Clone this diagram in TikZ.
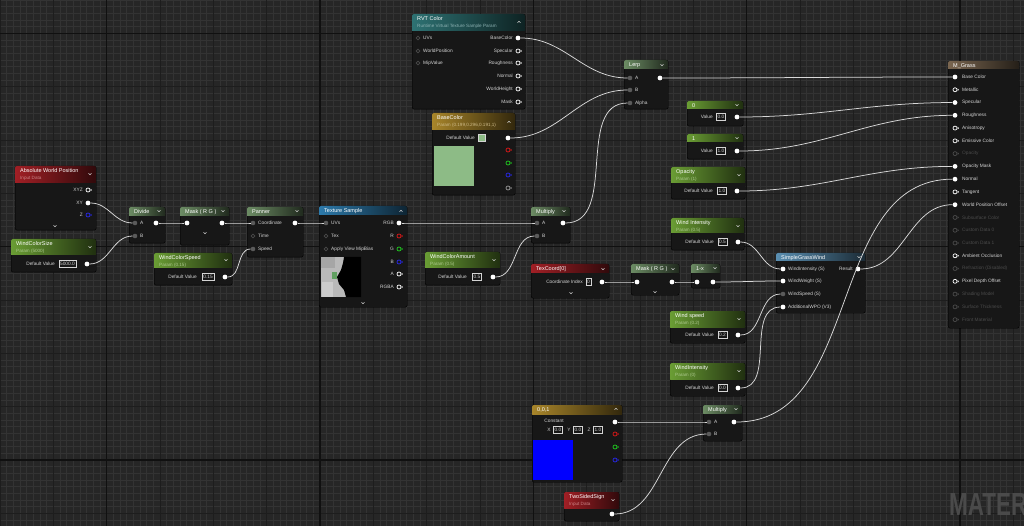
\documentclass[tikz,border=0pt]{standalone}
\usepackage{fontspec}
\setmainfont{Liberation Sans}
\usetikzlibrary{arrows.meta,positioning,calc}
\definecolor{uebg}{HTML}{262626}
\definecolor{uegridfine}{HTML}{333333}
\definecolor{uegridmid}{HTML}{1D1D1D}
\definecolor{uegridmaj}{HTML}{101010}
\definecolor{uebody}{HTML}{171717}
\definecolor{uered}{HTML}{A11F25}
\definecolor{ueparam}{HTML}{6A9D34}
\definecolor{uemath}{HTML}{6C8C64}
\definecolor{ueteal}{HTML}{2E7273}
\definecolor{uetex}{HTML}{2D7AAB}
\definecolor{uefunc}{HTML}{5A8FB2}
\definecolor{uegold}{HTML}{A8852A}
\definecolor{uemat}{HTML}{7A6650}
\definecolor{uetext}{HTML}{D4D4D4}
\definecolor{uedim}{HTML}{4A4A4A}
\definecolor{uepin}{HTML}{5A5A5A}
\definecolor{uewire}{HTML}{D8D8D8}
\definecolor{ueswatch}{HTML}{8DBB86}
\definecolor{pinred}{HTML}{E01818}
\definecolor{pingreen}{HTML}{20D020}
\definecolor{pinblue}{HTML}{2828F0}
\definecolor{uemark}{HTML}{4A4A4A}
\tikzset{
  ue/body/.style={draw=black, fill=uebody, rounded corners=2pt, inner sep=0pt, anchor=north west, line width=0.4pt},
  ue/title/.style={anchor=west, inner sep=0pt, text=white, font=\fontsize{5.5}{6}\selectfont},
  ue/sub/.style={anchor=west, inner sep=0pt, font=\fontsize{4.6}{5}\selectfont},
  ue/label/.style={inner sep=0pt, text=uetext, font=\fontsize{4.8}{5}\selectfont},
  ue/val/.style={draw=uetext, line width=0.4pt, inner xsep=1.2pt, inner ysep=0pt, minimum height=7pt, text=uetext, font=\fontsize{4.8}{5}\selectfont},
  pin/fill/.style={circle, fill=white, inner sep=0pt, minimum size=4.8pt},
  pin/in/.style={circle, fill=uepin, inner sep=0pt, minimum size=4.6pt},
  pin/free/.style={circle, draw=uedim, line width=0.6pt, inner sep=0pt, minimum size=3.8pt},
  wire/.style={draw=uewire, line width=0.75pt, out=0, in=180},
  openpin/.pic={\draw[line width=0.7pt,#1] (0,0) circle (2.0); \fill[#1] (2.6,-1.4) -- (3.9,0) -- (2.6,1.4) -- cycle;},
  pics/openpin/.default=white,
  chev/.pic={\draw[uetext, line width=0.5pt] (-1.4,-0.7) -- (0,0.7) -- (1.4,-0.7);},
  chevup/.pic={\draw[uetext, line width=0.5pt] (-1.4,0.7) -- (0,-0.7) -- (1.4,0.7);}
}
% name, x, y, width, height, header height, colour, title, subtitle
\newcommand{\uenode}[9]{%
  \node[ue/body, minimum width=#4pt, minimum height=#5pt] (#1) at (#2,#3) {};
  \begin{scope}
    \clip[rounded corners=2pt] (#2,#3) rectangle ++(#4,#6+2);
    \shade[left color=#7, right color=#7!30!black] (#2,#3) rectangle ++(#4,#6);
  \end{scope}
  \node[ue/title] (#1-t) at (#2+5,#3+5) {#8};
  \node[ue/sub, text=#7!55!white] (#1-s) at (#2+5,#3+12) {#9};
}

\begin{document}
\begin{tikzpicture}[x=1pt,y=-1pt]
\useasboundingbox (0,0) rectangle (1024,526);

% graph grid
\fill[uebg] (0,0) rectangle (1024,526);
\foreach \i in {0,...,153} \draw[uegridfine, line width=0.6pt] (\i*6.6667,0) -- (\i*6.6667,526);
\foreach \j in {0,...,79} \draw[uegridfine, line width=0.6pt] (0,\j*6.6667) -- (1024,\j*6.6667);
\foreach \i in {0,...,19} \draw[uegridmid, line width=0.8pt] (\i*53.333,0) -- (\i*53.333,526);
\foreach \j in {0,...,9} \draw[uegridmid, line width=0.8pt] (0,33.333+\j*53.333) -- (1024,33.333+\j*53.333);
\foreach \i in {0,...,4} \draw[uegridmaj, line width=1.1pt] (106.667+\i*213.333,0) -- (106.667+\i*213.333,526);
\foreach \j in {0,...,2} \draw[uegridmaj, line width=1.1pt] (0,33.333+\j*213.333) -- (1024,33.333+\j*213.333);

\begin{scope}
  \clip (0,0) rectangle (1024,526);
  \node[anchor=west, inner sep=0pt, text=uemark, font=\fontsize{32}{32}\selectfont\bfseries] (mark) at (949,504) {\scalebox{0.7}[1]{MATER}};
\end{scope}

% Absolute World Position
\uenode{awp}{15}{166}{81}{64}{17}{uered}{Absolute World Position}{Input Data}
\node[ue/label, anchor=east] (awp-l1) at (83,190) {XYZ};
\node[ue/label, anchor=east] (awp-l2) at (83,203) {XY};
\node[ue/label, anchor=east] (awp-l3) at (83,215) {Z};
\pic at (88,190) {openpin=white};
\node[pin/fill] (awp-xy) at (88,203) {};
\pic at (88,215) {openpin=pinblue};

% WindColorSize
\uenode{wcsize}{11}{239}{85}{33}{16}{ueparam}{WindColorSize}{Param (5000)}
\node[ue/label, anchor=east] (wcsize-l) at (55,264) {Default Value};
\node[ue/val] (wcsize-v) at (67.5,264) {5000.0};
\node[pin/fill] (wcsize-out) at (87,264) {};

% Divide
\uenode{divide}{129}{207}{36}{36}{9}{uemath}{Divide}{}
\node[pin/in] (divide-a) at (135,223) {};
\node[pin/in] (divide-b) at (135,236) {};
\node[ue/label, anchor=west] (divide-la) at (140,223) {A};
\node[ue/label, anchor=west] (divide-lb) at (140,236) {B};
\node[pin/fill] (divide-out) at (156,223) {};

% Mask (R G)
\uenode{mask}{180}{207}{49}{38}{9}{uemath}{Mask ( R G )}{}
\node[pin/fill] (mask-in) at (187,223) {};
\node[pin/fill] (mask-out) at (222,223) {};

% Panner
\uenode{panner}{247}{207}{56}{50}{9}{uemath}{Panner}{}
\node[pin/in] (panner-coord) at (253,223) {};
\node[pin/free] (panner-time) at (253,236) {};
\node[pin/in] (panner-speed) at (253,249) {};
\node[ue/label, anchor=west] (panner-l1) at (258,223) {Coordinate};
\node[ue/label, anchor=west] (panner-l2) at (258,236) {Time};
\node[ue/label, anchor=west] (panner-l3) at (258,249) {Speed};
\node[pin/fill] (panner-out) at (295,223) {};

% WindColorSpeed
\uenode{wcspeed}{154}{253}{78}{32}{15}{ueparam}{WindColorSpeed}{Param (0.15)}
\node[ue/label, anchor=east] (wcspeed-l) at (197,277) {Default Value};
\node[ue/val] (wcspeed-v) at (208,277) {0.15};
\node[pin/fill] (wcspeed-out) at (225,277) {};

% Texture Sample
\uenode{texs}{319}{206}{88}{101}{9}{uetex}{Texture Sample}{}
\node[pin/in] (texs-uv) at (326,223) {};
\node[pin/free] (texs-tex) at (326,236) {};
\node[pin/free] (texs-mip) at (326,249) {};
\node[ue/label, anchor=west] (texs-l1) at (331,223) {UVs};
\node[ue/label, anchor=west] (texs-l2) at (331,236) {Tex};
\node[ue/label, anchor=west] (texs-l3) at (331,249) {Apply View MipBias};
\node[pin/fill] (texs-rgb) at (399,223) {};
\pic at (399,236) {openpin=pinred};
\pic at (399,249) {openpin=pingreen};
\pic at (399,262) {openpin=pinblue};
\pic at (399,274) {openpin=white};
\pic at (399,287) {openpin=white};
\foreach \lbl/\py in {RGB/223,R/236,G/249,B/262,A/274,RGBA/287}
  \node[ue/label, anchor=east] (texs-o\lbl) at (394,\py) {\lbl};
\node[fill=gray!55, minimum width=40pt, minimum height=40pt, anchor=north west, inner sep=0pt] (texs-thumb) at (321,257) {};
\fill[gray!70] (321,257) rectangle (335,268);
\fill[gray!40] (322,282) rectangle (333,297);
\fill[green!25!gray] (332,272) rectangle (337,279);
\fill[black] (344,257) -- (361,257) -- (361,297) -- (346,297) -- (344,290) -- (339,284) -- (337,277) -- (341,270) -- (343,263) -- cycle;

% WindColorAmount
\uenode{wcamount}{425}{252}{75}{33}{16}{ueparam}{WindColorAmount}{Param (0.5)}
\node[ue/label, anchor=east] (wcamount-l) at (467,277) {Default Value};
\node[ue/val] (wcamount-v) at (477,277) {0.5};
\node[pin/fill] (wcamount-out) at (493,277) {};

% Multiply
\uenode{mul}{531}{207}{39}{36}{9}{uemath}{Multiply}{}
\node[pin/in] (mul-a) at (537,223) {};
\node[pin/in] (mul-b) at (537,236) {};
\node[ue/label, anchor=west] (mul-la) at (542,223) {A};
\node[ue/label, anchor=west] (mul-lb) at (542,236) {B};
\node[pin/fill] (mul-out) at (563,223) {};

% RVT Color
\uenode{rvt}{412}{14}{113}{95}{17}{ueteal}{RVT Color}{Runtime Virtual Texture Sample Param}
\foreach \lbl/\py in {UVs/38,WorldPosition/51,MipValue/63}{
  \node[pin/free] (rvt-i\lbl) at (418,\py) {};
  \node[ue/label, anchor=west] (rvt-l\lbl) at (423,\py) {\lbl};
}
\node[pin/fill] (rvt-base) at (518,38) {};
\foreach \py in {51,63,76,89,102} \pic at (518,\py) {openpin=white};
\foreach \lbl/\py in {BaseColor/38,Specular/51,Roughness/63,Normal/76,WorldHeight/89,Mask/102}
  \node[ue/label, anchor=east] (rvt-o\lbl) at (513,\py) {\lbl};

% BaseColor
\uenode{basecol}{432}{113}{83}{82}{17}{uegold}{BaseColor}{Param (0.199,0.296,0.191,1)}
\node[ue/label, anchor=east] (basecol-l) at (475,138) {Default Value};
\node[draw=uetext, line width=0.3pt, fill=ueswatch, minimum size=7pt, inner sep=0pt] (basecol-sw) at (481.5,138) {};
\node[fill=ueswatch, minimum width=40pt, minimum height=40pt, anchor=north west, inner sep=0pt] (basecol-big) at (434,146) {};
\node[pin/fill] (basecol-out) at (508,138) {};
\pic at (508,150) {openpin=pinred};
\pic at (508,163) {openpin=pingreen};
\pic at (508,175) {openpin=pinblue};
\pic at (508,188) {openpin=gray!80};

% Lerp
\uenode{lerp}{624}{60}{44}{49}{9}{uemath}{Lerp}{}
\node[pin/in] (lerp-a) at (630,78) {};
\node[pin/in] (lerp-b) at (630,90) {};
\node[pin/in] (lerp-alpha) at (630,103) {};
\node[ue/label, anchor=west] (lerp-la) at (635,78) {A};
\node[ue/label, anchor=west] (lerp-lb) at (635,90) {B};
\node[ue/label, anchor=west] (lerp-lc) at (635,103) {Alpha};
\node[pin/fill] (lerp-out) at (660,78) {};

% constants 0 and 1
\uenode{zero}{687}{101}{56}{25}{8}{ueparam}{0}{}
\node[ue/label, anchor=east] (zero-l) at (713,117) {Value};
\node[ue/val] (zero-v) at (721,117) {0.0};
\node[pin/fill] (zero-out) at (737,117) {};
\uenode{one}{687}{134}{56}{25}{8}{ueparam}{1}{}
\node[ue/label, anchor=east] (one-l) at (713,151) {Value};
\node[ue/val] (one-v) at (721,151) {1.0};
\node[pin/fill] (one-out) at (737,151) {};

% Opacity
\uenode{opacity}{671}{167}{74}{32}{16}{ueparam}{Opacity}{Param (1)}
\node[ue/label, anchor=east] (opacity-l) at (713,191) {Default Value};
\node[ue/val] (opacity-v) at (722,191) {1.0};
\node[pin/fill] (opacity-out) at (737,191) {};

% Wind Intensity
\uenode{windint}{671}{218}{73}{32}{15}{ueparam}{Wind Intensity}{Param (0.5)}
\node[ue/label, anchor=east] (windint-l) at (714,242) {Default Value};
\node[ue/val] (windint-v) at (722.5,242) {0.5};
\node[pin/fill] (windint-out) at (738,242) {};

% TexCoord
\uenode{texc}{531}{264}{78}{34}{9}{uered}{TexCoord[0]}{}
\node[ue/label, anchor=east] (texc-l) at (583,282) {Coordinate Index};
\node[ue/val] (texc-v) at (588.5,282) {0};
\node[pin/fill] (texc-out) at (602,282) {};

% Mask (R G) and 1-x
\uenode{mask2}{631}{264}{48}{31}{9}{uemath}{Mask ( R G )}{}
\node[pin/fill] (mask2-in) at (637,282) {};
\node[pin/fill] (mask2-out) at (672,282) {};
\uenode{oneminus}{691}{264}{29}{24}{9}{uemath}{1-x}{}
\node[pin/fill] (oneminus-in) at (697,282) {};
\node[pin/fill] (oneminus-out) at (713,282) {};

% SimpleGrassWind
\uenode{sgw}{776}{253}{89}{60}{8}{uefunc}{SimpleGrassWind}{}
\node[pin/fill] (sgw-int) at (783,269) {};
\node[pin/fill] (sgw-weight) at (783,281) {};
\node[pin/in] (sgw-speed) at (783,294) {};
\node[pin/fill] (sgw-wpo) at (783,307) {};
\foreach \lbl/\py in {WindIntensity (S)/269,WindWeight (S)/281,WindSpeed (S)/294,AdditionalWPO (V3)/307}
  \node[ue/label, anchor=west] at (788,\py) {\lbl};
\node[ue/label, anchor=east] (sgw-lr) at (853,269) {Result};
\node[pin/fill] (sgw-out) at (858,269) {};

% Wind speed
\uenode{windspd}{670}{311}{75}{32}{16}{ueparam}{Wind speed}{Param (0.2)}
\node[ue/label, anchor=east] (windspd-l) at (714,335) {Default Value};
\node[ue/val] (windspd-v) at (722.5,335) {0.2};
\node[pin/fill] (windspd-out) at (738,335) {};

% WindIntensity for offset
\uenode{windoff}{670}{363}{75}{33}{16}{ueparam}{WindIntensity}{Param (0)}
\node[ue/label, anchor=east] (windoff-l) at (714,388) {Default Value};
\node[ue/val] (windoff-v) at (722.5,388) {0.0};
\node[pin/fill] (windoff-out) at (738,388) {};

% Constant 0,0,1
\uenode{const}{532}{405}{90}{77}{9}{uegold}{0,0,1}{}
\node[ue/label] (const-l) at (554,421) {Constant};
\foreach \ax/\px in {X/549,Y/569,Z/589}
  \node[ue/label] (const-\ax) at (\px,430) {\ax};
\node[ue/val] (const-vx) at (558,430) {0.0};
\node[ue/val] (const-vy) at (578,430) {0.0};
\node[ue/val] (const-vz) at (598,430) {1.0};
\node[fill=blue, minimum width=40pt, minimum height=40pt, anchor=north west, inner sep=0pt] (const-sw) at (533,440) {};
\node[pin/fill] (const-out) at (615,422) {};
\pic at (615,434) {openpin=pinred};
\pic at (615,447) {openpin=pingreen};
\pic at (615,460) {openpin=pinblue};

% Multiply (normal)
\uenode{mul2}{703}{405}{39}{36}{8}{uemath}{Multiply}{}
\node[pin/in] (mul2-a) at (709,422) {};
\node[pin/in] (mul2-b) at (709,434) {};
\node[ue/label, anchor=west] (mul2-la) at (714,422) {A};
\node[ue/label, anchor=west] (mul2-lb) at (714,434) {B};
\node[pin/fill] (mul2-out) at (734,422) {};

% TwoSidedSign
\uenode{tss}{564}{492}{55}{29}{16}{uered}{TwoSidedSign}{Input Data}
\node[pin/fill] (tss-out) at (612,514) {};

% M_Grass
\uenode{mgrass}{948}{61}{71}{267}{8}{uemat}{M\_Grass}{}
\foreach \lbl/\col [count=\i from 0] in {Base Color/uetext,Metallic/uetext,Specular/uetext,Roughness/uetext,Anisotropy/uetext,Emissive Color/uetext,Opacity/uedim,Opacity Mask/uetext,Normal/uetext,Tangent/uetext,World Position Offset/uetext,Subsurface Color/uedim,Custom Data 0/uedim,Custom Data 1/uedim,Ambient Occlusion/uetext,Refraction (Disabled)/uedim,Pixel Depth Offset/uetext,Shading Model/uedim,Surface Thickness/uedim,Front Material/uedim}
  \node[ue/label, anchor=west, text=\col] (mgrass-l\i) at (962,77+\i*12.77) {\lbl};
\foreach \i in {1,4,5,9,14,16} \pic at (955,77+\i*12.77) {openpin=white};
\foreach \i in {6,11,12,13,15,17,18,19} \pic at (955,77+\i*12.77) {openpin=uedim};
\foreach \i/\n in {0/base,2/spec,3/rough,7/omask,8/normal,10/wpo}
  \node[pin/fill] (mgrass-\n) at (955,77+\i*12.77) {};

% chevrons
\foreach \cx/\cy in {90/174,90/247,159/211,223/211,297/211,226/260,494/260,564/211,662/65,737/105,737/138,739/175,738/226,603/269,673/269,715/268,859/257,739/319,739/371,736/409,613/500,55/226,205/233,363/303,571/293,655/292}
  \pic at (\cx,\cy) {chev};
\foreach \cx/\cy in {519/22,401/211,509/122,616/409}
  \pic at (\cx,\cy) {chevup};

% wires
\draw[wire] (awp-xy) to (divide-a);
\draw[wire] (wcsize-out) to (divide-b);
\draw[wire] (divide-out) to (mask-in);
\draw[wire] (mask-out) to (panner-coord);
\draw[wire] (wcspeed-out) to (panner-speed);
\draw[wire] (panner-out) to (texs-uv);
\draw[wire] (texs-rgb) to (mul-a);
\draw[wire] (wcamount-out) to (mul-b);
\draw[wire] (mul-out) to (lerp-alpha);
\draw[wire] (rvt-base) to (lerp-a);
\draw[wire] (basecol-out) to (lerp-b);
\draw[wire] (lerp-out) to (mgrass-base);
\draw[wire] (zero-out) to (mgrass-spec);
\draw[wire] (one-out) to (mgrass-rough);
\draw[wire] (opacity-out) to (mgrass-omask);
\draw[wire] (windint-out) to (sgw-int);
\draw[wire] (texc-out) to (mask2-in);
\draw[wire] (mask2-out) to (oneminus-in);
\draw[wire] (oneminus-out) to (sgw-weight);
\draw[wire] (windspd-out) to (sgw-speed);
\draw[wire] (windoff-out) to (sgw-wpo);
\draw[wire] (const-out) to (mul2-a);
\draw[wire] (tss-out) to (mul2-b);
\draw[wire] (mul2-out) to (mgrass-normal);
\draw[wire] (sgw-out) to (mgrass-wpo);
\end{tikzpicture}
\end{document}
